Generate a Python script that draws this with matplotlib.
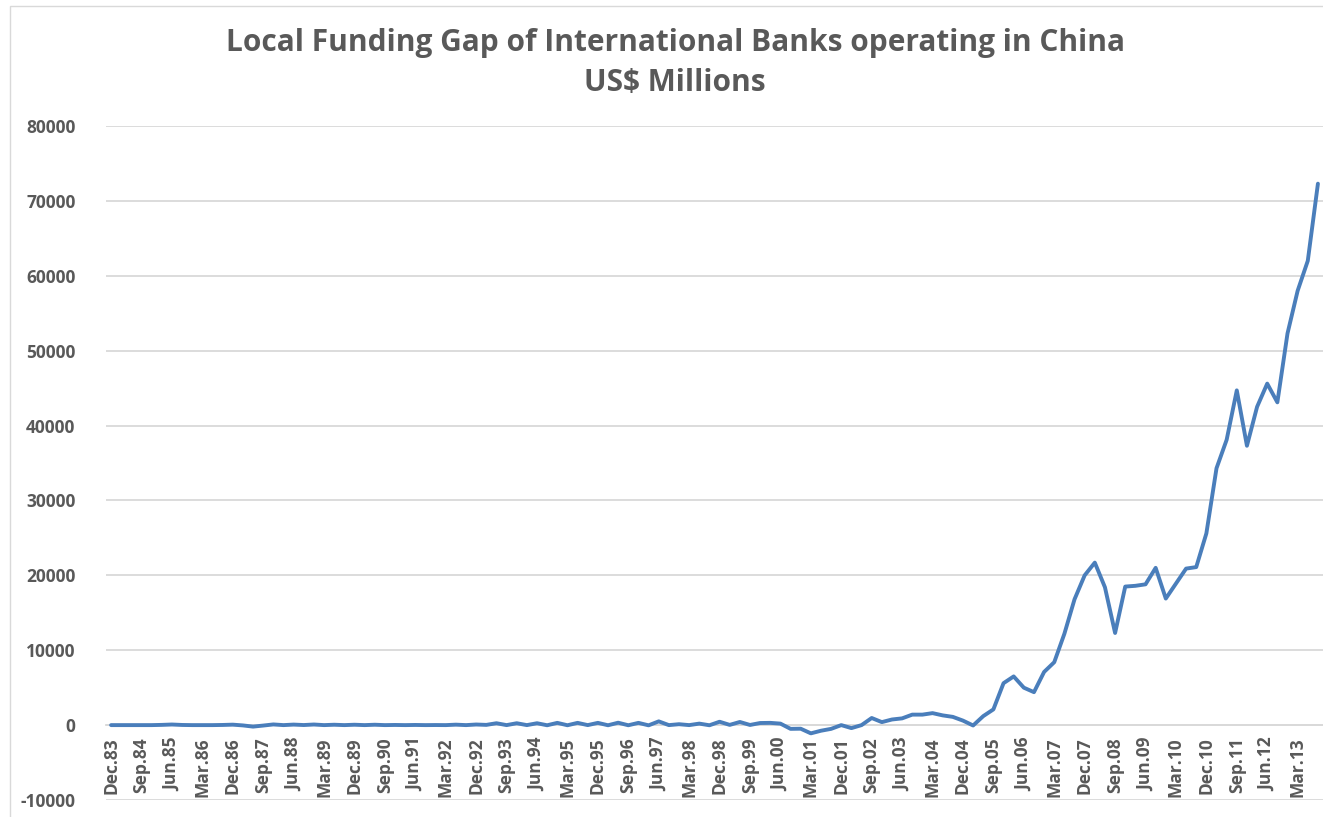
import matplotlib
matplotlib.use("Agg")
import matplotlib.pyplot as plt
from matplotlib.patches import Rectangle

plt.rcParams['font.family'] = ['Open Sans', 'DejaVu Sans']

# Quarterly local funding gap, Dec.83 .. Sep.13 (US$ millions)
funding_gap = [
    0, 0, 0, 0, 0, 30, 80, 20, 0, 0,
    0, 20, 60, -40, -200, -60, 90, 0, 70, 10,
    80, 0, 50, 0, 50, 0, 50, 0, 20, 0,
    20, 0, 10, 0, 60, 0, 80, 30, 250, 0,
    250, 0, 250, -20, 300, -20, 300, 0, 300, -20,
    320, -20, 300, -30, 500, 0, 120, 0, 200, -20,
    450, 30, 420, 20, 280, 300, 200, -500, -480, -1100,
    -750, -500, 0, -400, 0, 950, 400, 750, 900, 1400,
    1400, 1600, 1300, 1100, 600, -50, 1200, 2100, 5600, 6500,
    5000, 4400, 7100, 8400, 12200, 16800, 20000, 21700, 18400, 12300,
    18500, 18600, 18800, 21000, 16900, 18900, 20900, 21100, 25600, 34300,
    38100, 44700, 37300, 42500, 45600, 43100, 52300, 58000, 62000, 72300,
]

# Category labels shown on the axis (every third quarter)
tick_labels = [
    "Dec.83", "Sep.84", "Jun.85", "Mar.86", "Dec.86", "Sep.87", "Jun.88", "Mar.89",
    "Dec.89", "Sep.90", "Jun.91", "Mar.92", "Dec.92", "Sep.93", "Jun.94", "Mar.95",
    "Dec.95", "Sep.96", "Jun.97", "Mar.98", "Dec.98", "Sep.99", "Jun.00", "Mar.01",
    "Dec.01", "Sep.02", "Jun.03", "Mar.04", "Dec.04", "Sep.05", "Jun.06", "Mar.07",
    "Dec.07", "Sep.08", "Jun.09", "Mar.10", "Dec.10", "Sep.11", "Jun.12", "Mar.13",
]
y_ticks = [-10000, 0, 10000, 20000, 30000, 40000, 50000, 60000, 70000, 80000]

title_lines = ["Local Funding Gap of International Banks operating in China", "US$ Millions"]

W, H = 1323, 817
fig = plt.figure(figsize=(W / 100, H / 100), dpi=100)
fig.patch.set_facecolor("white")

# chart-area border
fig.patches.append(Rectangle((10 / W, -0.01), 1.0, (H - 6) / H + 0.01,
                             transform=fig.transFigure, fill=False,
                             edgecolor="#d9d9d9", linewidth=1.0))

left, right, top, bottom = 106, 1323, 126, 800
ax = fig.add_axes([left / W, (H - bottom) / H, (right - left) / W, (bottom - top) / H])

grey = "#595959"
x = list(range(len(funding_gap)))
ax.plot(x, funding_gap, color="#4a7ebb", linewidth=2.8, solid_joinstyle="round",
        solid_capstyle="round", zorder=3)

# category axis crosses the value axis at zero
for s in ["top", "right", "left"]:
    ax.spines[s].set_visible(False)
ax.spines["bottom"].set_position(("data", 0))
ax.spines["bottom"].set_color("#d9d9d9")
ax.spines["bottom"].set_linewidth(1.3)

ax.set_xlim(-0.5, len(funding_gap) - 0.5)
ax.set_ylim(y_ticks[0], y_ticks[-1])
ax.set_yticks(y_ticks)
ax.set_yticklabels([str(v) for v in y_ticks])
ax.yaxis.grid(True, color="#d9d9d9", linewidth=1.3, zorder=0)
ax.set_axisbelow(True)

ax.set_xticks(x[::3])
ax.set_xticklabels(tick_labels)

ax.tick_params(axis="y", length=0, pad=22, labelsize=12.5, labelcolor=grey)
ax.tick_params(axis="x", length=0, pad=9, labelsize=12.5, labelcolor=grey,
               labelrotation=90)
for lab in ax.get_xticklabels() + ax.get_yticklabels():
    lab.set_fontweight("bold")

fig.text(675 / W, 1 - 43 / H, title_lines[0], ha="center", va="center",
         fontsize=21.5, fontweight="bold", color=grey)
fig.text(675 / W, 1 - 83 / H, title_lines[1], ha="center", va="center",
         fontsize=21.5, fontweight="bold", color=grey)

fig.savefig("out.png", dpi=100, facecolor="white")
